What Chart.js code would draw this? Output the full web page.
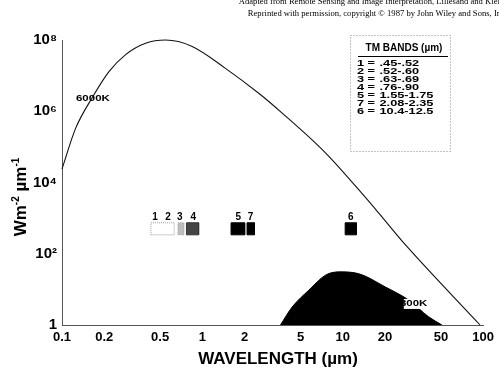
<!DOCTYPE html>
<html><head><meta charset="utf-8">
<script src="https://cdn.jsdelivr.net/npm/chart.js@4"></script>
<style>html,body{margin:0;padding:0;background:#fff}#wrap{width:499px;height:374px}</style>
</head><body><div id="wrap"><canvas id="c" width="499" height="374"></canvas></div>
<script>
// ---- data ----
const wl6000 = [0.1, 0.125, 0.164, 0.216, 0.284, 0.394, 0.547, 0.846, 1.46, 2.52, 3.70, 7.53, 14.5, 18.0, 26.4, 95];
const exit6000 = [2.4e4, 3.3e5, 2.4e6, 1.3e7, 3.9e7, 8.1e7, 1.0e8, 6.6e7, 1.6e7, 3.2e6, 8.9e5, 6.8e4, 3.8e3, 1.4e3, 2.3e2, 1];
const wl300 = [3.6, 4.36, 5.73, 7.53, 9.37, 13.0, 20.1, 29.5, 40.9, 50.9];
const exit300 = [1, 3.2, 9.5, 25, 31, 27.5, 11.7, 5.0, 1.7, 1];

const bandIds = ['1', '2', '3', '4', '5', '7', '6'];
const bandRanges = ['.45-.52', '.52-.60', '.63-.69', '.76-.90', '1.55-1.75', '2.08-2.35', '10.4-12.5'];
const bandLabelX = [0.46, 0.57, 0.69, 0.86, 1.8, 2.2, 11.4];

const markerStart = [0.43, 0.67, 0.77, 1.6, 2.08, 10.4];
const markerEnd = [0.63, 0.74, 0.94, 2.0, 2.35, 12.5];
const markerFill = ['#ffffff', '#bdbdbd', '#444444', '#000000', '#000000', '#000000'];
const markerEdge = ['#9a9a9a', '#a0a0a0', '#333333', '#000000', '#000000', '#000000'];
const markerBottom = 340;
const markerTop = 740;

const curveNames = ['6000K', '300K'];
const curveLabelX = [0.166, 32];
const curveLabelY = [2.2e6, 3.9];

const xTickValues = [0.1, 0.2, 0.5, 1, 2, 5, 10, 20, 50, 100];
const xTickLabels = ['0.1', '0.2', '0.5', '1', '2', '5', '10', '20', '50', '100'];
const yTickValues = [1, 1e2, 1e4, 1e6, 1e8];
const yTickLabels = ['1', '10²', '10⁴', '10⁶', '10⁸'];

const captionLines = [
  'Adapted from Remote Sensing and Image Interpretation, Lillesand and Kiefer',
  'Reprinted with permission, copyright © 1987 by John Wiley and Sons, Inc.'
];
const xTitle = 'WAVELENGTH (µm)';
const legendTitle = 'TM BANDS (µm)';

// ---- datasets ----
const datasets = [];
datasets.push({
  label: '6000K',
  data: wl6000.map((w, i) => ({x: w, y: exit6000[i]})),
  borderColor: '#111', borderWidth: 1.1, fill: false,
  cubicInterpolationMode: 'monotone', pointRadius: 0, clip: false, order: 1
});
datasets.push({
  label: '300K',
  data: wl300.map((w, i) => ({x: w, y: exit300[i]})),
  borderColor: '#000', backgroundColor: '#000', borderWidth: 1, fill: 'start',
  cubicInterpolationMode: 'monotone', pointRadius: 0, order: 2
});
markerStart.forEach((s, i) => {
  const e = markerEnd[i];
  datasets.push({
    label: 'band' + i,
    data: [{x: s, y: markerBottom}, {x: s, y: markerTop}, {x: e, y: markerTop}, {x: e, y: markerBottom}, {x: s, y: markerBottom}],
    borderColor: markerEdge[i], backgroundColor: markerFill[i], borderWidth: 1,
    borderDash: i < 2 ? [1, 1] : [], fill: 'shape', tension: 0, pointRadius: 0, order: 0
  });
});

function labelFor(values, labels, v) {
  for (let i = 0; i < values.length; i++) if (Math.abs(values[i] - v) / values[i] < 1e-6) return labels[i];
  return '';
}

const decor = {
  id: 'decor',
  afterDraw(chart) {
    const {ctx, scales: {x, y}} = chart;
    ctx.save();
    ctx.fillStyle = '#000';
    // caption
    ctx.font = '8.6px "Liberation Serif"';
    ctx.textAlign = 'right'; ctx.textBaseline = 'alphabetic';
    ctx.fillText(captionLines[0], 507, 4);
    ctx.fillText(captionLines[1], 507, 16);

    // x title
    ctx.font = 'bold 17px "Liberation Sans"';
    ctx.textAlign = 'center'; ctx.textBaseline = 'middle';
    ctx.fillText(xTitle, 278, 359);

    // y title (rotated, with superscripts)
    ctx.save();
    ctx.translate(20, 197);
    ctx.rotate(-Math.PI / 2);
    const parts = [['Wm', 17, 0], ['-2', 10, -7], [' µm', 17, 0], ['-1', 10, -7]];
    let total = 0;
    parts.forEach(p => { ctx.font = 'bold ' + p[1] + 'px "Liberation Sans"'; total += ctx.measureText(p[0]).width; });
    let cx = -total / 2;
    ctx.textAlign = 'left'; ctx.textBaseline = 'alphabetic';
    parts.forEach(p => {
      ctx.font = 'bold ' + p[1] + 'px "Liberation Sans"';
      ctx.fillText(p[0], cx, 6 + p[2]);
      cx += ctx.measureText(p[0]).width;
    });
    ctx.restore();

    // curve labels (wide bold)
    ctx.textAlign = 'center'; ctx.textBaseline = 'middle';
    curveNames.forEach((n, i) => {
      const px = x.getPixelForValue(curveLabelX[i]);
      const py = y.getPixelForValue(curveLabelY[i]);
      ctx.save();
      ctx.translate(px, py);
      ctx.scale(1.35, 1);
      ctx.font = 'bold 8.5px "Liberation Sans"';
      if (i === 1) {
        const w = ctx.measureText(n).width;
        const w1 = ctx.measureText(n[0]).width;
        ctx.fillStyle = '#fff';
        ctx.fillRect(-w / 2 + w1 * 0.6, -5, w - w1 * 0.6 + 1, 10);
      }
      ctx.fillStyle = '#000';
      ctx.fillText(n, 0, 0);
      ctx.restore();
    });

    // band labels above markers
    ctx.font = 'bold 10px "Liberation Sans"';
    ctx.textAlign = 'center'; ctx.textBaseline = 'alphabetic';
    const ly = y.getPixelForValue(markerTop) - 3;
    bandIds.forEach((b, i) => {
      ctx.fillText(b, x.getPixelForValue(bandLabelX[i]), ly);
    });

    // legend box
    ctx.strokeStyle = '#888'; ctx.lineWidth = 1; ctx.setLineDash([1, 2]);
    ctx.strokeRect(350.5, 35.5, 100, 116);
    ctx.setLineDash([]);
    ctx.font = 'bold 10px "Liberation Sans"';
    ctx.textAlign = 'center'; ctx.textBaseline = 'middle';
    ctx.fillText(legendTitle, 404, 48);
    ctx.strokeStyle = '#000';
    ctx.beginPath(); ctx.moveTo(358, 56.5); ctx.lineTo(448, 56.5); ctx.stroke();
    ctx.textAlign = 'left';
    bandIds.forEach((b, i) => {
      const ry = 63.5 + i * 8.1;
      ctx.save();
      ctx.translate(357, ry);
      ctx.scale(1.5, 1);
      ctx.font = 'bold 8.5px "Liberation Sans"';
      ctx.fillText(b, 0, 0);
      ctx.fillText('=', 7, 0);
      ctx.fillText(bandRanges[i], 15, 0);
      ctx.restore();
    });
    ctx.restore();
  }
};

new Chart(document.getElementById('c'), {
  type: 'line',
  data: {datasets},
  options: {
    responsive: false, animation: false,
    layout: {padding: {top: 40, right: 14, left: 0, bottom: 0}},
    plugins: {legend: {display: false}, tooltip: {enabled: false}},
    elements: {point: {radius: 0}},
    scales: {
      x: {
        type: 'logarithmic', min: 0.1, max: 100,
        afterBuildTicks: s => { s.ticks = xTickValues.map(v => ({value: v})); },
        ticks: {callback: v => labelFor(xTickValues, xTickLabels, v), color: '#000',
          font: {family: 'Liberation Sans', weight: 'bold', size: 13}, padding: 5, autoSkip: false, maxRotation: 0},
        grid: {display: true, color: 'rgba(0,0,0,0)', drawTicks: false},
        border: {display: true, color: '#555', width: 1, dash: [1, 1]},
        afterFit: s => { s.height = 49; }
      },
      y: {
        type: 'logarithmic', min: 1, max: 1e8,
        afterBuildTicks: s => { s.ticks = yTickValues.map(v => ({value: v})); },
        ticks: {callback: v => labelFor(yTickValues, yTickLabels, v), color: '#000',
          font: {family: 'Liberation Sans', weight: 'bold', size: 15}, padding: 5, autoSkip: false},
        grid: {display: true, color: 'rgba(0,0,0,0)', drawTicks: false},
        border: {display: true, color: '#555', width: 1, dash: [1, 1]},
        afterFit: s => { s.width = 62; }
      }
    }
  },
  plugins: [decor]
});
</script>
</body></html>
